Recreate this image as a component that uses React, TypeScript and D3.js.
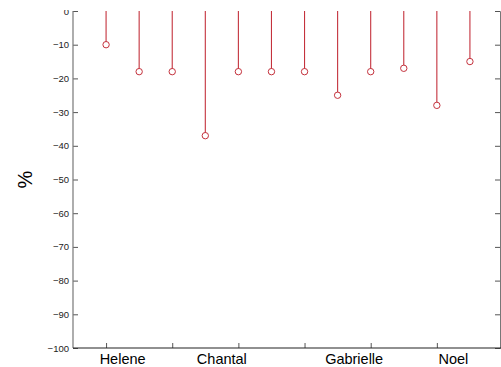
import React, { useEffect, useRef } from 'react';
import * as d3 from 'd3';

// stem values, one per position (1..12)
const positions = [1, 2, 3, 4, 5, 6, 7, 8, 9, 10, 11, 12];
const values = [-10, -18, -18, -37, -18, -18, -18, -25, -18, -17, -28, -15];

// x ticks (every other stem) and the name labels between stems
const xTicks = [1, 3, 5, 7, 9, 11];
const labelPositions = [1.5, 4.5, 8.5, 11.5];
const labelNames = ['Helene', 'Chantal', 'Gabrielle', 'Noel'];

const yTicks = [0, -10, -20, -30, -40, -50, -60, -70, -80, -90, -100];

const W = 501;
const H = 367;

const App: React.FC = () => {
    const svgRef = useRef<SVGSVGElement>(null);

    useEffect(() => {
        if (!svgRef.current) return;
        const svg = d3.select(svgRef.current);
        svg.selectAll('*').remove();

        const left = 73;
        const right = 503;
        const top = 11;
        const bottom = 348;

        const x = d3.scaleLinear().domain([0, 13]).range([left, right]);
        const y = d3.scaleLinear().domain([0, -100]).range([top, bottom]);

        const font = 'Liberation Sans, Arial, sans-serif';
        const stemColor = '#c4323d';

        // the top strip is cut off in the original, so clip to it
        svg.append('defs')
            .append('clipPath')
            .attr('id', 'plotclip')
            .append('rect')
            .attr('x', 0).attr('y', top - 1)
            .attr('width', W).attr('height', H);

        const root = svg.append('g').attr('clip-path', 'url(#plotclip)');

        // stems
        root.append('g')
            .selectAll('line')
            .data(positions)
            .enter()
            .append('line')
            .attr('x1', d => x(d))
            .attr('x2', d => x(d))
            .attr('y1', y(0))
            .attr('y2', (d, i) => y(values[i]) - 3)
            .attr('stroke', stemColor)
            .attr('stroke-width', 1.1);

        root.append('g')
            .selectAll('circle')
            .data(positions)
            .enter()
            .append('circle')
            .attr('cx', d => x(d))
            .attr('cy', (d, i) => y(values[i]))
            .attr('r', 3.2)
            .attr('fill', 'none')
            .attr('stroke', stemColor)
            .attr('stroke-width', 1);

        // left axis
        const yAxis = d3.axisLeft(y)
            .tickValues(yTicks)
            .tickSize(-5)
            .tickPadding(4)
            .tickFormat(d3.format('d'));
        const gy = root.append('g')
            .attr('transform', `translate(${left},0)`)
            .call(yAxis);
        gy.select('.domain').remove();
        gy.selectAll('.tick line').attr('stroke', '#555');
        gy.selectAll('.tick text')
            .attr('font-family', font)
            .attr('font-size', 9.5)
            .attr('fill', '#222');
        root.append('line')
            .attr('x1', left).attr('x2', left)
            .attr('y1', top).attr('y2', bottom)
            .attr('stroke', '#777')
            .attr('stroke-width', 1.2);

        // right axis (ticks only, line sits at the window edge)
        const gr = root.append('g')
            .attr('transform', `translate(${right - 3},0)`)
            .call(d3.axisRight(y).tickValues(yTicks).tickSize(-5).tickFormat(() => ''));
        gr.select('.domain').attr('stroke', '#777');
        gr.selectAll('.tick line').attr('stroke', '#555');

        // bottom axis
        const gx = root.append('g')
            .attr('transform', `translate(0,${bottom})`)
            .call(d3.axisBottom(x).tickValues(xTicks).tickSize(-5).tickFormat(() => ''));
        gx.select('.domain').remove();
        gx.selectAll('.tick line').attr('stroke', '#555');
        root.append('line')
            .attr('x1', left).attr('x2', W)
            .attr('y1', bottom).attr('y2', bottom)
            .attr('stroke', '#222')
            .attr('stroke-width', 1.2);

        root.append('g')
            .selectAll('text')
            .data(labelPositions)
            .enter()
            .append('text')
            .attr('x', d => x(d))
            .attr('y', bottom + 16)
            .attr('text-anchor', 'middle')
            .attr('font-family', font)
            .attr('font-size', 14.5)
            .attr('fill', '#000')
            .text((d, i) => labelNames[i]);

        // y label
        root.append('text')
            .attr('transform', `translate(32,${(top + bottom) / 2}) rotate(-90)`)
            .attr('text-anchor', 'middle')
            .attr('font-family', font)
            .attr('font-size', 20)
            .attr('fill', '#000')
            .text('%');
    }, []);

    return (
        <svg
            ref={svgRef}
            width={W}
            height={H}
            style={{ position: 'absolute', left: 0, top: 0, background: '#fff' }}
        />
    );
};

export default App;
